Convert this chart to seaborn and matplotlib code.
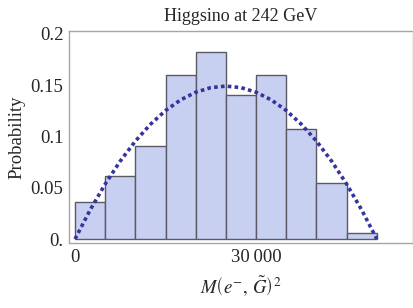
import matplotlib
matplotlib.use("Agg")
import matplotlib.pyplot as plt
import seaborn as sns

# histogram bins (edges) and probabilities
bin_edges = [0, 5000, 10000, 15000, 20000, 25000, 30000, 35000, 40000, 45000, 50000]
bin_centers = [2500, 7500, 12500, 17500, 22500, 27500, 32500, 37500, 42500, 47500]
probabilities = [0.036, 0.061, 0.091, 0.160, 0.182, 0.140, 0.160, 0.107, 0.055, 0.006]

# dashed theory curve
curve_x = [0, 2500, 5000, 7500, 10000, 12500, 15000, 17500, 20000, 22500, 25000,
           27500, 30000, 32500, 35000, 37500, 40000, 42500, 45000, 47500, 50000]
curve_y = [0.0, 0.0283, 0.0536, 0.0760, 0.0954, 0.1118, 0.1252, 0.1356, 0.1430, 0.1475, 0.1490,
           0.1475, 0.1430, 0.1356, 0.1252, 0.1118, 0.0954, 0.0760, 0.0536, 0.0283, 0.0]

yticks = [0, 0.05, 0.1, 0.15, 0.2]
ytick_labels = ["0.", "0.05", "0.1", "0.15", "0.2"]
xticks = [0, 30000]
xtick_labels = ["0", "30\u2009000"]

sns.set_style("white")
plt.rcParams["font.family"] = ["Liberation Serif", "DejaVu Serif"]
plt.rcParams["mathtext.fontset"] = "stix"

fig = plt.figure(figsize=(4.14, 3.08), dpi=100)
ax = fig.add_axes([0.1667, 0.211, 0.8309, 0.6884])

sns.histplot(x=bin_centers, weights=probabilities, bins=bin_edges, ax=ax,
             color="#c8d0f2", alpha=1.0, edgecolor="#5a5a66", linewidth=1.0)
sns.lineplot(x=curve_x, y=curve_y, ax=ax, color="#34349c", linewidth=2.6,
             dashes=False, zorder=3)
ax.lines[-1].set_dashes((1.0, 0.9))

ax.set_xlim(-1000, 56000)
ax.set_ylim(-0.0039, 0.2027)
ax.set_xticks(xticks)
ax.set_xticklabels(xtick_labels)
ax.set_yticks(yticks)
ax.set_yticklabels(ytick_labels)
ax.tick_params(direction="in", length=4, width=0.8, color="#909090",
               labelsize=13.5, pad=4)

for sp in ax.spines.values():
    sp.set_color("#a6a6a6")
    sp.set_linewidth(1.0)

ax.set_title("Higgsino at 242 GeV", fontsize=13, pad=7)
ax.set_ylabel("Probability", fontsize=13.5, labelpad=4)
ax.set_xlabel(r"$M\left(e^{-},\,\tilde{G}\right)^{2}$", fontsize=13.5, labelpad=6)

fig.savefig("out.png", dpi=100)
